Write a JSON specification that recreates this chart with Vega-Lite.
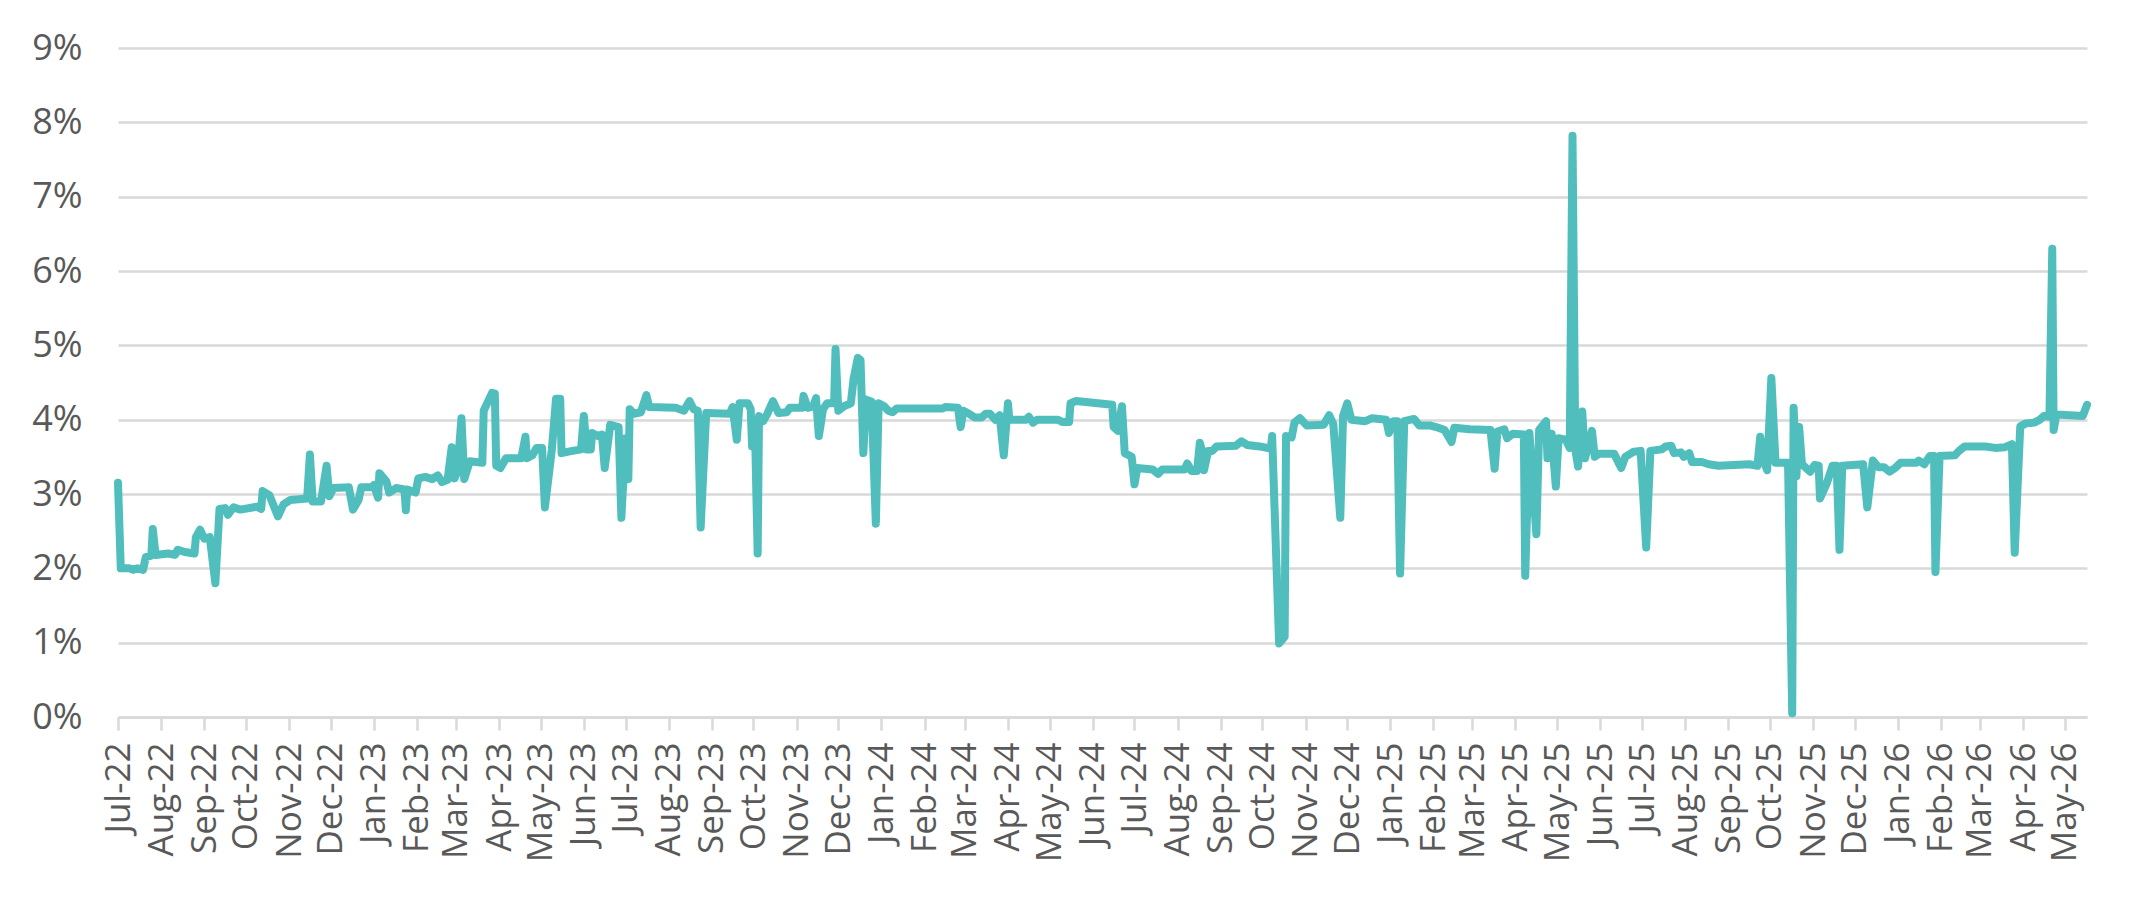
{
  "$schema": "https://vega.github.io/schema/vega-lite/v6.json",
  "width": 1969,
  "height": 669,
  "autosize": {"type": "none"},
  "padding": {"left": 118, "top": 48, "right": 51, "bottom": 185},
  "background": "#ffffff",
  "config": {"view": {"stroke": null}, "font": "Open Sans"},
  "data": {"values": [
    {"d":"2022-07-01","v":3.15},{"d":"2022-07-03","v":2.0},{"d":"2022-07-09","v":2.0},{"d":"2022-07-12","v":1.98},{"d":"2022-07-15","v":2.0},{"d":"2022-07-19","v":1.98},{"d":"2022-07-21","v":2.15},{"d":"2022-07-25","v":2.17},{"d":"2022-07-26","v":2.53},{"d":"2022-07-28","v":2.18},
    {"d":"2022-08-06","v":2.2},{"d":"2022-08-11","v":2.18},{"d":"2022-08-13","v":2.25},{"d":"2022-08-18","v":2.22},{"d":"2022-08-25","v":2.2},{"d":"2022-08-26","v":2.42},{"d":"2022-08-29","v":2.52},
    {"d":"2022-09-01","v":2.4},{"d":"2022-09-05","v":2.42},{"d":"2022-09-09","v":1.8},{"d":"2022-09-12","v":2.8},{"d":"2022-09-16","v":2.81},{"d":"2022-09-18","v":2.72},{"d":"2022-09-22","v":2.82},{"d":"2022-09-27","v":2.79},
    {"d":"2022-10-09","v":2.83},{"d":"2022-10-12","v":2.8},{"d":"2022-10-13","v":3.04},{"d":"2022-10-18","v":2.98},{"d":"2022-10-24","v":2.7},{"d":"2022-10-28","v":2.86},
    {"d":"2022-11-02","v":2.92},{"d":"2022-11-14","v":2.94},{"d":"2022-11-16","v":3.53},{"d":"2022-11-18","v":2.9},{"d":"2022-11-24","v":2.9},{"d":"2022-11-28","v":3.38},{"d":"2022-11-30","v":2.97},
    {"d":"2022-12-03","v":3.08},{"d":"2022-12-14","v":3.09},{"d":"2022-12-17","v":2.79},{"d":"2022-12-21","v":2.92},{"d":"2022-12-23","v":3.09},{"d":"2022-12-30","v":3.09},
    {"d":"2023-01-01","v":3.12},{"d":"2023-01-04","v":2.95},{"d":"2023-01-05","v":3.28},{"d":"2023-01-10","v":3.17},{"d":"2023-01-12","v":3.02},{"d":"2023-01-17","v":3.08},{"d":"2023-01-23","v":3.06},{"d":"2023-01-24","v":2.78},{"d":"2023-01-25","v":3.06},{"d":"2023-01-31","v":3.02},
    {"d":"2023-02-02","v":3.21},{"d":"2023-02-07","v":3.23},{"d":"2023-02-12","v":3.2},{"d":"2023-02-16","v":3.25},{"d":"2023-02-19","v":3.16},{"d":"2023-02-23","v":3.19},{"d":"2023-02-26","v":3.63},{"d":"2023-02-28","v":3.21},
    {"d":"2023-03-02","v":3.3},{"d":"2023-03-05","v":4.02},{"d":"2023-03-07","v":3.2},{"d":"2023-03-11","v":3.44},{"d":"2023-03-20","v":3.42},{"d":"2023-03-21","v":4.12},{"d":"2023-03-27","v":4.36},{"d":"2023-03-29","v":4.35},{"d":"2023-03-30","v":3.38},
    {"d":"2023-04-02","v":3.35},{"d":"2023-04-06","v":3.48},{"d":"2023-04-17","v":3.48},{"d":"2023-04-20","v":3.77},{"d":"2023-04-21","v":3.48},{"d":"2023-04-25","v":3.52},{"d":"2023-04-28","v":3.62},
    {"d":"2023-05-02","v":3.62},{"d":"2023-05-04","v":2.82},{"d":"2023-05-09","v":3.6},{"d":"2023-05-12","v":4.28},{"d":"2023-05-15","v":4.28},{"d":"2023-05-16","v":3.55},{"d":"2023-05-21","v":3.57},{"d":"2023-05-30","v":3.6},
    {"d":"2023-06-01","v":4.05},{"d":"2023-06-03","v":3.6},{"d":"2023-06-06","v":3.6},{"d":"2023-06-07","v":3.82},{"d":"2023-06-11","v":3.78},{"d":"2023-06-14","v":3.8},{"d":"2023-06-16","v":3.35},{"d":"2023-06-20","v":3.93},{"d":"2023-06-26","v":3.9},{"d":"2023-06-28","v":2.68},
    {"d":"2023-07-01","v":3.75},{"d":"2023-07-03","v":3.2},{"d":"2023-07-04","v":4.14},{"d":"2023-07-07","v":4.08},{"d":"2023-07-12","v":4.1},{"d":"2023-07-16","v":4.33},{"d":"2023-07-18","v":4.17},
    {"d":"2023-08-06","v":4.16},{"d":"2023-08-12","v":4.12},{"d":"2023-08-16","v":4.25},{"d":"2023-08-19","v":4.14},{"d":"2023-08-22","v":4.12},{"d":"2023-08-24","v":2.55},{"d":"2023-08-28","v":4.09},
    {"d":"2023-09-14","v":4.08},{"d":"2023-09-16","v":4.17},{"d":"2023-09-19","v":3.73},{"d":"2023-09-21","v":4.22},{"d":"2023-09-27","v":4.22},{"d":"2023-09-29","v":4.14},{"d":"2023-09-30","v":3.64},
    {"d":"2023-10-02","v":3.95},{"d":"2023-10-04","v":2.2},{"d":"2023-10-05","v":4.05},{"d":"2023-10-08","v":3.98},{"d":"2023-10-11","v":4.08},{"d":"2023-10-15","v":4.25},{"d":"2023-10-19","v":4.09},{"d":"2023-10-25","v":4.1},{"d":"2023-10-27","v":4.16},
    {"d":"2023-11-05","v":4.16},{"d":"2023-11-06","v":4.32},{"d":"2023-11-09","v":4.16},{"d":"2023-11-13","v":4.18},{"d":"2023-11-15","v":4.29},{"d":"2023-11-17","v":3.78},{"d":"2023-11-20","v":4.14},{"d":"2023-11-23","v":4.22},{"d":"2023-11-28","v":4.22},{"d":"2023-11-29","v":4.95},
    {"d":"2023-12-01","v":4.12},{"d":"2023-12-05","v":4.18},{"d":"2023-12-10","v":4.22},{"d":"2023-12-12","v":4.55},{"d":"2023-12-15","v":4.83},{"d":"2023-12-17","v":4.8},{"d":"2023-12-19","v":3.55},{"d":"2023-12-21","v":4.27},{"d":"2023-12-25","v":4.24},{"d":"2023-12-28","v":2.6},{"d":"2023-12-30","v":4.22},
    {"d":"2024-01-03","v":4.18},{"d":"2024-01-06","v":4.12},{"d":"2024-01-09","v":4.1},{"d":"2024-01-12","v":4.15},{"d":"2024-02-14","v":4.15},{"d":"2024-02-16","v":4.17},{"d":"2024-02-25","v":4.16},{"d":"2024-02-27","v":3.9},{"d":"2024-02-29","v":4.12},
    {"d":"2024-03-04","v":4.08},{"d":"2024-03-08","v":4.03},{"d":"2024-03-13","v":4.03},{"d":"2024-03-16","v":4.08},{"d":"2024-03-19","v":4.08},{"d":"2024-03-23","v":4.0},{"d":"2024-03-26","v":4.06},{"d":"2024-03-29","v":3.52},
    {"d":"2024-04-01","v":4.22},{"d":"2024-04-02","v":4.0},{"d":"2024-04-14","v":4.0},{"d":"2024-04-16","v":4.04},{"d":"2024-04-19","v":3.96},{"d":"2024-04-22","v":4.0},
    {"d":"2024-05-07","v":4.0},{"d":"2024-05-10","v":3.97},{"d":"2024-05-15","v":3.97},{"d":"2024-05-16","v":4.22},{"d":"2024-05-20","v":4.25},
    {"d":"2024-06-15","v":4.2},{"d":"2024-06-16","v":3.9},{"d":"2024-06-19","v":3.85},{"d":"2024-06-22","v":4.18},{"d":"2024-06-24","v":3.55},{"d":"2024-06-29","v":3.5},
    {"d":"2024-07-01","v":3.13},{"d":"2024-07-03","v":3.35},{"d":"2024-07-14","v":3.33},{"d":"2024-07-18","v":3.27},{"d":"2024-07-21","v":3.33},
    {"d":"2024-08-06","v":3.33},{"d":"2024-08-08","v":3.41},{"d":"2024-08-11","v":3.31},{"d":"2024-08-15","v":3.31},{"d":"2024-08-17","v":3.69},{"d":"2024-08-19","v":3.55},{"d":"2024-08-20","v":3.32},{"d":"2024-08-23","v":3.58},{"d":"2024-08-26","v":3.58},{"d":"2024-08-29","v":3.64},
    {"d":"2024-09-12","v":3.65},{"d":"2024-09-16","v":3.71},{"d":"2024-09-20","v":3.66},{"d":"2024-09-29","v":3.64},
    {"d":"2024-10-07","v":3.61},{"d":"2024-10-08","v":3.78},{"d":"2024-10-13","v":0.99},{"d":"2024-10-17","v":1.08},{"d":"2024-10-18","v":3.78},{"d":"2024-10-22","v":3.76},{"d":"2024-10-24","v":3.96},{"d":"2024-10-28","v":4.02},
    {"d":"2024-11-02","v":3.92},{"d":"2024-11-14","v":3.93},{"d":"2024-11-18","v":4.06},{"d":"2024-11-21","v":3.94},{"d":"2024-11-26","v":2.68},{"d":"2024-11-28","v":4.05},
    {"d":"2024-12-01","v":4.22},{"d":"2024-12-04","v":4.0},{"d":"2024-12-14","v":3.98},{"d":"2024-12-19","v":4.02},{"d":"2024-12-29","v":4.0},{"d":"2024-12-31","v":3.82},
    {"d":"2025-01-03","v":3.98},{"d":"2025-01-06","v":3.98},{"d":"2025-01-08","v":1.93},{"d":"2025-01-11","v":3.98},{"d":"2025-01-18","v":4.01},{"d":"2025-01-22","v":3.92},{"d":"2025-01-30","v":3.92},
    {"d":"2025-02-03","v":3.9},{"d":"2025-02-09","v":3.86},{"d":"2025-02-14","v":3.7},{"d":"2025-02-16","v":3.89},{"d":"2025-02-27","v":3.87},
    {"d":"2025-03-14","v":3.86},{"d":"2025-03-17","v":3.34},{"d":"2025-03-19","v":3.84},{"d":"2025-03-24","v":3.87},{"d":"2025-03-26","v":3.75},{"d":"2025-03-30","v":3.81},
    {"d":"2025-04-07","v":3.8},{"d":"2025-04-08","v":1.9},{"d":"2025-04-11","v":3.82},{"d":"2025-04-16","v":2.46},{"d":"2025-04-18","v":3.86},{"d":"2025-04-23","v":3.98},{"d":"2025-04-24","v":3.48},{"d":"2025-04-27","v":3.81},{"d":"2025-04-30","v":3.1},
    {"d":"2025-05-02","v":3.75},{"d":"2025-05-07","v":3.73},{"d":"2025-05-10","v":3.62},{"d":"2025-05-12","v":7.82},{"d":"2025-05-14","v":3.6},{"d":"2025-05-16","v":3.37},{"d":"2025-05-19","v":4.11},{"d":"2025-05-21","v":3.48},{"d":"2025-05-26","v":3.85},{"d":"2025-05-28","v":3.5},{"d":"2025-05-31","v":3.54},
    {"d":"2025-06-11","v":3.54},{"d":"2025-06-16","v":3.35},{"d":"2025-06-19","v":3.5},{"d":"2025-06-25","v":3.57},{"d":"2025-06-30","v":3.58},
    {"d":"2025-07-04","v":2.28},{"d":"2025-07-07","v":3.58},{"d":"2025-07-15","v":3.6},{"d":"2025-07-18","v":3.64},{"d":"2025-07-22","v":3.65},{"d":"2025-07-24","v":3.55},{"d":"2025-07-29","v":3.56},{"d":"2025-07-31","v":3.5},
    {"d":"2025-08-04","v":3.55},{"d":"2025-08-06","v":3.43},{"d":"2025-08-13","v":3.43},{"d":"2025-08-18","v":3.4},{"d":"2025-08-25","v":3.38},
    {"d":"2025-09-16","v":3.4},{"d":"2025-09-22","v":3.38},{"d":"2025-09-24","v":3.77},{"d":"2025-09-27","v":3.42},{"d":"2025-09-29","v":3.32},
    {"d":"2025-10-02","v":4.56},{"d":"2025-10-05","v":3.42},{"d":"2025-10-14","v":3.42},{"d":"2025-10-17","v":0.05},{"d":"2025-10-18","v":4.16},{"d":"2025-10-20","v":3.24},{"d":"2025-10-22","v":3.9},{"d":"2025-10-24","v":3.4},{"d":"2025-10-30","v":3.3},
    {"d":"2025-11-02","v":3.39},{"d":"2025-11-05","v":3.38},{"d":"2025-11-06","v":2.94},{"d":"2025-11-11","v":3.15},{"d":"2025-11-15","v":3.38},{"d":"2025-11-18","v":3.38},{"d":"2025-11-20","v":2.25},{"d":"2025-11-22","v":3.38},
    {"d":"2025-12-07","v":3.4},{"d":"2025-12-10","v":2.82},{"d":"2025-12-14","v":3.45},{"d":"2025-12-18","v":3.36},{"d":"2025-12-22","v":3.36},{"d":"2025-12-26","v":3.3},{"d":"2025-12-30","v":3.35},
    {"d":"2026-01-03","v":3.42},{"d":"2026-01-14","v":3.42},{"d":"2026-01-16","v":3.45},{"d":"2026-01-20","v":3.4},{"d":"2026-01-24","v":3.51},{"d":"2026-01-27","v":3.51},{"d":"2026-01-28","v":1.95},{"d":"2026-01-31","v":3.51},
    {"d":"2026-02-11","v":3.52},{"d":"2026-02-14","v":3.58},{"d":"2026-02-18","v":3.64},
    {"d":"2026-03-05","v":3.64},{"d":"2026-03-12","v":3.62},{"d":"2026-03-19","v":3.63},{"d":"2026-03-24","v":3.67},{"d":"2026-03-26","v":2.21},{"d":"2026-03-30","v":3.91},
    {"d":"2026-04-03","v":3.95},{"d":"2026-04-09","v":3.96},{"d":"2026-04-13","v":4.0},{"d":"2026-04-16","v":4.05},{"d":"2026-04-20","v":4.04},{"d":"2026-04-22","v":6.3},{"d":"2026-04-23","v":3.86},{"d":"2026-04-25","v":4.07},
    {"d":"2026-05-14","v":4.05},{"d":"2026-05-17","v":4.2}
  ]},
  "mark": {"type": "line", "color": "#50BEBD", "strokeWidth": 8, "strokeCap": "round", "strokeJoin": "round", "clip": false},
  "encoding": {
    "x": {
      "field": "d", "type": "temporal", "title": null,
      "scale": {"type": "utc", "domain": [{"year": 2022, "month": 7, "date": 1, "utc": true}, {"year": 2026, "month": 5, "date": 17, "utc": true}], "nice": false},
      "axis": {
        "tickCount": {"interval": "month", "step": 1},
        "labelExpr": "utcFormat(datum.value, '%b-%y')",
        "labelAngle": 270, "labelAlign": "right", "labelBaseline": "middle",
        "labelFontSize": 35, "labelColor": "#595959", "labelFont": "Open Sans",
        "labelPadding": 12, "labelOverlap": false, "labelFlush": false,
        "ticks": true, "tickSize": 13, "tickColor": "#d9d9d9", "tickWidth": 2.5,
        "domain": true, "domainColor": "#d9d9d9", "domainWidth": 2.5,
        "grid": false
      }
    },
    "y": {
      "field": "v", "type": "quantitative", "title": null,
      "scale": {"domain": [0, 9], "nice": false},
      "axis": {
        "values": [0, 1, 2, 3, 4, 5, 6, 7, 8, 9],
        "labelExpr": "datum.value + '%'",
        "labelFontSize": 36, "labelColor": "#595959", "labelFont": "Open Sans",
        "labelPadding": 36, "ticks": false, "domain": false,
        "grid": true, "gridColor": "#d9d9d9", "gridWidth": 2.5
      }
    }
  }
}
